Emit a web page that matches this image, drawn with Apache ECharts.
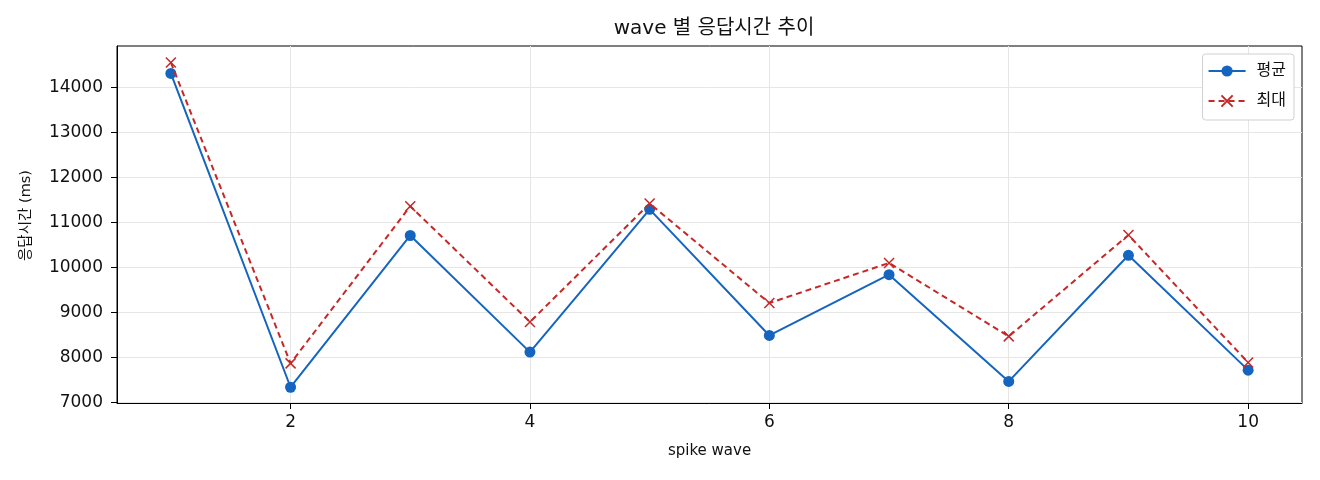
<!DOCTYPE html>
<html>
<head>
<meta charset="utf-8">
<script src="https://cdn.jsdelivr.net/npm/echarts@6/dist/echarts.min.js"></script>
<style>
  html, body { margin: 0; padding: 0; background: #fff; }
  #chart { width: 1320px; height: 480px; }
</style>
</head>
<body>
<div id="chart"></div>
<script>
const waves = [1, 2, 3, 4, 5, 6, 7, 8, 9, 10]
const avgMs = [14310, 7340, 10710, 8120, 11290, 8490, 9840, 7470, 10270, 7720]
const maxMs = [14550, 7870, 11360, 8790, 11420, 9210, 10100, 8470, 10720, 7890]
const xTicks = [2, 4, 6, 8, 10]
const yTicks = [7000, 8000, 9000, 10000, 11000, 12000, 13000, 14000]

const font = '"DejaVu Sans", "Noto Sans CJK KR", sans-serif'
const blue = '#1565c0'
const red = '#c62828'

const chart = echarts.init(document.getElementById('chart'))

chart.setOption({
  animation: false,
  textStyle: { fontFamily: font },
  title: {
    text: 'wave 별 응답시간 추이',
    left: 709,
    top: 14,
    textAlign: 'center',
    textStyle: { fontFamily: font, fontSize: 20, fontWeight: 'normal', color: '#111' },
  },
  grid: {
    left: 117,
    right: 18,
    top: 46,
    bottom: 77,
    show: true,
    borderColor: '#000',
    borderWidth: 1,
  },
  legend: {
    orient: 'vertical',
    right: 26,
    top: 54,
    itemWidth: 37,
    itemHeight: 14,
    itemGap: 14,
    padding: [9, 8, 11, 5],
    backgroundColor: '#fff',
    borderColor: '#d0d0d0',
    borderWidth: 1,
    borderRadius: 3,
    textStyle: { fontFamily: font, fontSize: 16, color: '#111', padding: [0, 0, 0, 6] },
    data: ['평균', '최대'],
  },
  xAxis: {
    type: 'value',
    min: 0.55,
    max: 10.45,
    name: 'spike wave',
    nameLocation: 'middle',
    nameGap: 41,
    nameTextStyle: { fontFamily: font, fontSize: 15, color: '#111' },
    axisLine: { show: true, lineStyle: { color: '#000' } },
    axisTick: { show: true, customValues: xTicks, length: 6, lineStyle: { color: '#000' } },
    axisLabel: { customValues: xTicks, fontSize: 17, color: '#111', margin: 11 },
    splitLine: { show: true, lineStyle: { color: '#e6e6e6' } },
  },
  yAxis: {
    type: 'value',
    min: 6990,
    max: 14918,
    name: '응답시간 (ms)',
    nameLocation: 'middle',
    nameGap: 84,
    nameTextStyle: { fontFamily: font, fontSize: 14.5, color: '#111', padding: [0, 0, 0, 18] },
    axisLine: { show: true, lineStyle: { color: '#000' } },
    axisTick: { show: true, customValues: yTicks, length: 6, lineStyle: { color: '#000' } },
    axisLabel: {
      customValues: yTicks,
      fontSize: 17,
      color: '#111',
      margin: 14,
      formatter: (v) => String(v),
    },
    splitLine: { show: true, lineStyle: { color: '#e6e6e6' } },
  },
  series: [
    {
      name: '평균',
      type: 'line',
      data: waves.map((w, i) => [w, avgMs[i]]),
      symbol: 'circle',
      symbolSize: 11,
      lineStyle: { color: blue, width: 2 },
      itemStyle: { color: blue },
      z: 3,
    },
    {
      name: '최대',
      type: 'line',
      data: waves.map((w, i) => [w, maxMs[i]]),
      symbol: 'path://M0,0L10,10M10,0L0,10',
      symbolSize: 10,
      lineStyle: { color: red, width: 2, type: [6, 4] },
      itemStyle: { color: red, borderColor: red, borderWidth: 1.5 },
      z: 4,
    },
  ],
})
</script>
</body>
</html>
